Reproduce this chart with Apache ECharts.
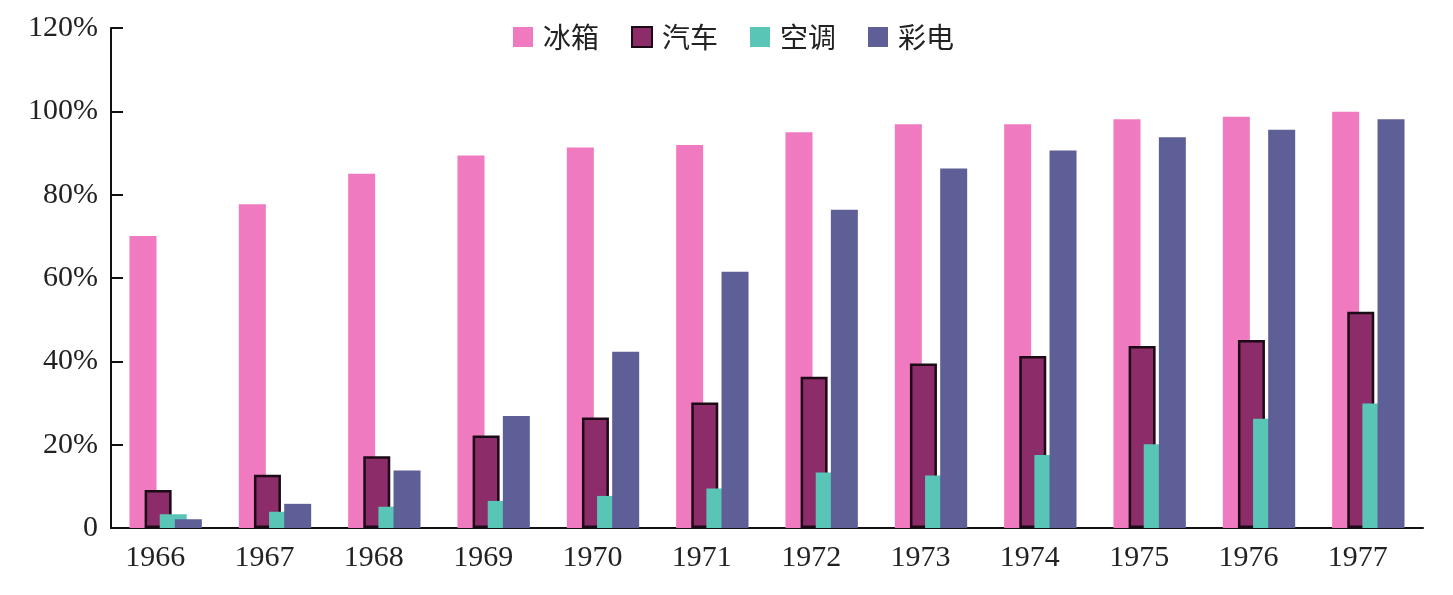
<!DOCTYPE html>
<html>
<head>
<meta charset="utf-8">
<script src="https://cdn.jsdelivr.net/npm/echarts@6/dist/echarts.min.js"></script>
<style>
	html, body{margin:0;padding:0;background:#fff;}
	#chart{width:1453px;height:595px;}
</style>
</head>
<body>
<div id="chart"></div>
<script>
var years = ['1966','1967','1968','1969','1970','1971','1972','1973','1974','1975','1976','1977'];
var seriesNames = ['冰箱', '汽车', '空调', '彩电'];
// 普及率 (%)
var fridge = [70.1, 77.7, 85.0, 89.4, 91.3, 91.9, 95.0, 96.9, 96.9, 98.1, 98.7, 99.9];
var car = [9.1, 12.8, 17.2, 22.2, 26.5, 30.1, 36.3, 39.5, 41.3, 43.7, 45.1, 51.9];
var aircon = [3.3, 3.9, 5.1, 6.5, 7.7, 9.5, 13.3, 12.6, 17.5, 20.1, 26.2, 29.9];
var colorTv = [2.1, 5.8, 13.8, 26.9, 42.3, 61.5, 76.4, 86.3, 90.6, 93.8, 95.6, 98.1];
var yTicks = {min: 0, max: 120, interval: 20};

var colors = ['#f07abf', '#8c2c69', '#58c5b7', '#5e5f97'];
var serifFont = '"Liberation Serif", "Noto Sans CJK SC", serif';

var theChart = echarts.init(document.getElementById('chart'));

function makeBar(idx, data){
	var s = {
		name: seriesNames[idx],
		type: 'bar',
		barWidth: 27,
		barGap: '-44%',
		itemStyle: {color: colors[idx]},
		data: data
	};
	if(idx == 1){
		s.itemStyle.borderColor = '#1a0b16';
		s.itemStyle.borderWidth = 2.5;
	}
	return s;
}

var option = {
	animation: false,
	backgroundColor: '#fff',
	textStyle: {fontFamily: serifFont},
	legend: {
		top: 18,
		left: 508,
		itemWidth: 20,
		itemHeight: 20,
		itemGap: 32,
		icon: 'rect',
		textStyle: {fontSize: 28, color: '#222', fontFamily: '"Noto Sans CJK SC", serif', padding: [0, 0, 0, 5]},
		data: seriesNames
	},
	grid: {left: 111, right: 30, top: 28, bottom: 67},
	xAxis: {
		type: 'category',
		data: years,
		axisLine: {lineStyle: {color: '#111', width: 2}},
		axisTick: {inside: true, length: 10, lineStyle: {color: '#111', width: 2}},
		axisLabel: {fontSize: 30, color: '#222', margin: 15, padding: [0, 21, 0, 0], fontFamily: serifFont}
	},
	yAxis: {
		type: 'value',
		min: yTicks.min,
		max: yTicks.max,
		interval: yTicks.interval,
		splitLine: {show: false},
		axisLine: {show: true, lineStyle: {color: '#111', width: 2}},
		axisTick: {show: true, inside: true, length: 12, lineStyle: {color: '#111', width: 2}},
		axisLabel: {
			fontSize: 30, color: '#222', margin: 13, fontFamily: serifFont,
			formatter: function(v){ return v == 0 ? '0' : v + '%'; }
		}
	},
	series: [
		makeBar(0, fridge),
		makeBar(1, car),
		makeBar(2, aircon),
		makeBar(3, colorTv)
	]
};

theChart.setOption(option);
</script>
</body>
</html>
